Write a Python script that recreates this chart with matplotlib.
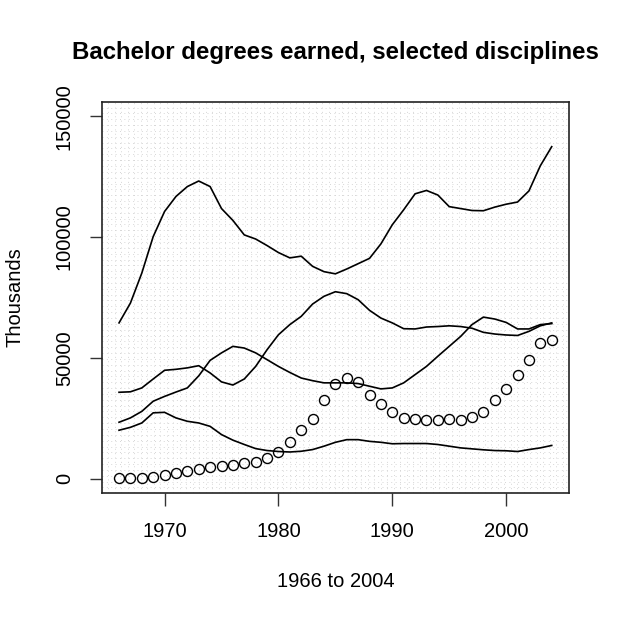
import matplotlib
matplotlib.use("Agg")
import matplotlib.pyplot as plt
import numpy as np

plt.rcParams['font.family'] = ['Liberation Sans', 'DejaVu Sans']

years = np.arange(1966, 2005)

# the four disciplines drawn as lines
top_line = [64500, 72700, 85100, 100200, 110600, 116800, 120900, 123200, 120900, 111800,
            106900, 100900, 99200, 96500, 93600, 91400, 92100, 87900, 85700, 84800,
            86800, 89000, 91200, 97200, 105100, 111300, 117900, 119300, 117400, 112600,
            111800, 111000, 110900, 112400, 113600, 114500, 119100, 129500, 137400]
line_a = [35800, 36000, 37600, 41300, 44900, 45300, 45900, 46800, 43800, 40100,
          38800, 41300, 46500, 53400, 59600, 63800, 67200, 72300, 75500, 77400,
          76600, 74100, 69700, 66500, 64500, 62100, 62000, 62800, 63000, 63300,
          63000, 62300, 60600, 59900, 59500, 59300, 61000, 63300, 64500]
line_b = [23400, 25200, 27900, 32100, 34100, 35900, 37600, 42600, 49000, 52100,
          54800, 54100, 52100, 49300, 46500, 44000, 41700, 40600, 39700, 39700,
          39700, 39400, 38300, 37200, 37600, 39700, 43100, 46500, 50700, 54800,
          58900, 63800, 66900, 66100, 64700, 62000, 62000, 63800, 64200]
line_c = [20100, 21300, 23100, 27300, 27500, 25200, 23800, 23100, 21700, 18300,
          16000, 14200, 12500, 11700, 11300, 11100, 11400, 12100, 13500, 15100,
          16200, 16200, 15500, 15100, 14500, 14600, 14600, 14600, 14200, 13500,
          12800, 12400, 12000, 11700, 11600, 11300, 12100, 12800, 13800]
# the one drawn as open circles
circles = [200, 300, 500, 900, 1500, 2500, 3400, 4100, 4700, 5200,
           5600, 6400, 7000, 8500, 11200, 15100, 20400, 24800, 32500, 39100,
           41900, 39900, 34800, 30800, 27500, 25300, 24900, 24500, 24500, 24800,
           24500, 25500, 27500, 32500, 37300, 43100, 49000, 56300, 57300]

x_ticks = [1970, 1980, 1990, 2000]
y_ticks = [0, 50000, 100000, 150000]

fig = plt.figure(figsize=(6.21, 6.21), dpi=100)
ax = fig.add_axes([0.1638, 0.2056, 0.9163 - 0.1638, 0.8362 - 0.2056])

xlo, xhi = 1966 - 0.04 * 38, 2004 + 0.04 * 38
ylo, yhi = -6000, 156000
ax.set_xlim(xlo, xhi)
ax.set_ylim(ylo, yhi)

# R style grid(nx, ny): light grey dotted lines
for gx in np.linspace(xlo, xhi, 73)[1:-1]:
    ax.axvline(gx, color='#D6D6D6', lw=0.7, ls=(0, (1, 3.5)), zorder=0)
for gy in np.linspace(ylo, yhi, 68)[1:-1]:
    ax.axhline(gy, color='#D6D6D6', lw=0.7, ls=(0, (1, 3.5)), zorder=0)

for series in [top_line, line_a, line_b, line_c]:
    ax.plot(years, series, color='black', lw=1.2)
ax.plot(years, circles, 'o', mfc='none', mec='black', ms=7.2, mew=1.0)

ax.set_xticks(x_ticks)
ax.set_yticks(y_ticks)
ax.set_yticklabels([str(v) for v in y_ticks], rotation=90, va='center')
ax.tick_params(axis='both', direction='out', length=9, width=1.0,
               labelsize=14.5, color='#333333')
ax.tick_params(axis='x', pad=12)
ax.tick_params(axis='y', pad=11)
for sp in ax.spines.values():
    sp.set_linewidth(1.2)
    sp.set_color('#222222')

fig.text(335.4 / 621, 1 - 52 / 621, 'Bachelor degrees earned, selected disciplines',
         ha='center', va='center', fontsize=17.3, fontweight='bold')
fig.text(335.4 / 621, 1 - 581.7 / 621, '1966 to 2004',
         ha='center', va='center', fontsize=14.5)
fig.text(15 / 621, 1 - 297.5 / 621, 'Thousands',
         ha='center', va='center', fontsize=14.5, rotation=90)

fig.savefig('out.png', dpi=100)
